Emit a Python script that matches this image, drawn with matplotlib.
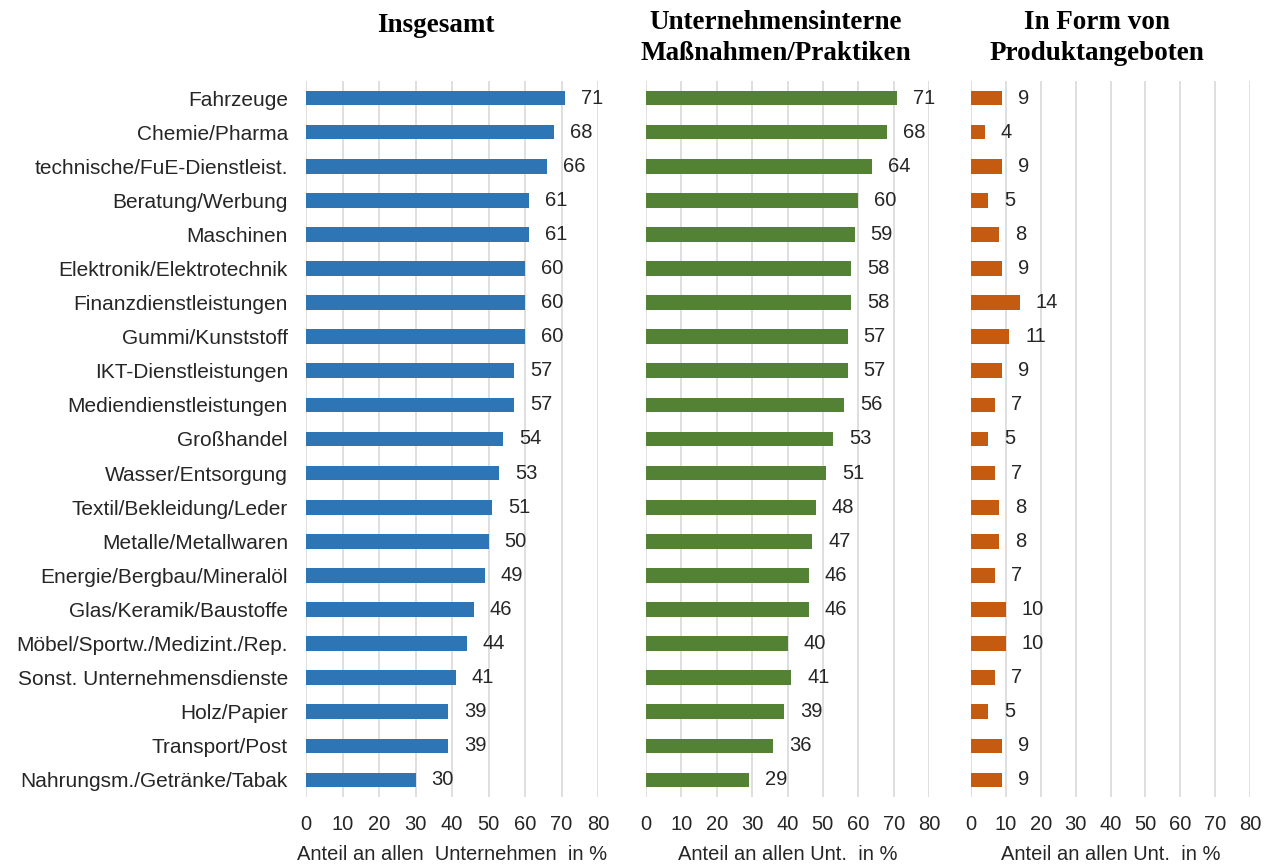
import matplotlib
matplotlib.use("Agg")
import matplotlib.pyplot as plt

plt.rcParams['font.family'] = ['Liberation Sans', 'DejaVu Sans']

# Branchen (von oben nach unten)
branchen = [
    "Fahrzeuge", "Chemie/Pharma", "technische/FuE-Dienstleist.",
    "Beratung/Werbung", "Maschinen", "Elektronik/Elektrotechnik",
    "Finanzdienstleistungen", "Gummi/Kunststoff", "IKT-Dienstleistungen",
    "Mediendienstleistungen", "Großhandel", "Wasser/Entsorgung",
    "Textil/Bekleidung/Leder", "Metalle/Metallwaren",
    "Energie/Bergbau/Mineralöl", "Glas/Keramik/Baustoffe",
    "Möbel/Sportw./Medizint./Rep.", "Sonst. Unternehmensdienste",
    "Holz/Papier", "Transport/Post", "Nahrungsm./Getränke/Tabak",
]
insgesamt = [71, 68, 66, 61, 61, 60, 60, 60, 57, 57, 54, 53, 51, 50, 49, 46, 44, 41, 39, 39, 30]
intern = [71, 68, 64, 60, 59, 58, 58, 57, 57, 56, 53, 51, 48, 47, 46, 46, 40, 41, 39, 36, 29]
produkt = [9, 4, 9, 5, 8, 9, 14, 11, 9, 7, 5, 7, 8, 8, 7, 10, 10, 7, 5, 9, 9]

titel = ["Insgesamt", "Unternehmensinterne\nMaßnahmen/Praktiken", "In Form von\nProduktangeboten"]
xlabels = ["Anteil an allen  Unternehmen  in %", "Anteil an allen Unt.  in %", "Anteil an allen Unt.  in %"]
farben = ["#2E75B6", "#548235", "#C55A11"]
xticks = [0, 10, 20, 30, 40, 50, 60, 70, 80]

W, H = 1277, 868
fig = plt.figure(figsize=(W / 100, H / 100), dpi=100)

# Achsenpositionen in Pixeln (links, rechts), Titelmitte
panels = [(306, 598), (646, 929), (971, 1250)]
titel_x = [436, 776, 1097]
titel_y = [25, 38, 38]
top, bottom = 81, 797
textfarbe = "#262626"

for i, (data, (x0, x1)) in enumerate(zip([insgesamt, intern, produkt], panels)):
    ax = fig.add_axes([x0 / W, 1 - bottom / H, (x1 - x0) / W, (bottom - top) / H])
    y = list(range(len(branchen)))
    ax.barh(y, data, height=0.43, color=farben[i], zorder=3)
    for yi, v in zip(y, data):
        ax.annotate(str(v), (v, yi), xytext=(11.5, 0), textcoords="offset points",
                    va="center", ha="left", fontsize=14.5, color=textfarbe)
    ax.set_xlim(0, 80)
    ax.set_ylim(len(branchen) - 0.5, -0.5)
    ax.set_xticks(xticks)
    ax.set_xticklabels([str(t) for t in xticks], fontsize=14.5, color=textfarbe)
    ax.tick_params(axis="x", length=0, pad=13)
    ax.tick_params(axis="y", length=0, pad=13)
    if i == 0:
        ax.set_yticks(y)
        ax.set_yticklabels(branchen, fontsize=15, color=textfarbe)
    else:
        ax.set_yticks([])
    ax.grid(axis="x", color="#D9D9D9", linewidth=1.2, zorder=0)
    for s in ax.spines.values():
        s.set_visible(False)
    ax.set_xlabel(xlabels[i], fontsize=14.5, color=textfarbe, labelpad=8)
    fig.text(titel_x[i] / W, 1 - titel_y[i] / H, titel[i], ha="center", va="center",
             fontsize=19.5, fontweight="bold", family="Liberation Serif",
             linespacing=1.35)

fig.savefig("out.png", dpi=100)
